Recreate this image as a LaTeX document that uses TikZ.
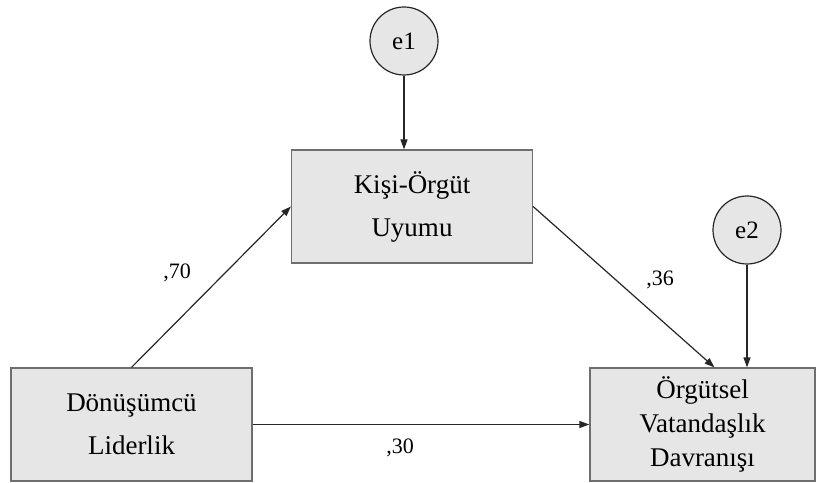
\documentclass[tikz,border=0pt]{standalone}
\usepackage{fontspec}
\setmainfont{Liberation Serif}
\usetikzlibrary{arrows.meta,positioning,calc}
\definecolor{boxfill}{HTML}{E6E6E6}
\definecolor{boxline}{HTML}{6E6E6E}

\begin{document}
\begin{tikzpicture}[
    x=1bp, y=-1bp,
    every node/.style={text=black},
    varbox/.style={
        rectangle, draw=boxline, line width=1.2bp,
        fill=boxfill,
        minimum width=241bp, minimum height=113bp,
        align=center, inner sep=2bp,
        font=\fontsize{27bp}{43bp}\selectfont,
    },
    errcirc/.style={
        circle, draw=black!85, line width=1.2bp,
        fill=boxfill, minimum size=68bp, inner sep=0pt,
        font=\fontsize{25bp}{30bp}\selectfont,
    },
    arrow/.style={-{Triangle[length=10bp,width=7bp]}, line width=1.2bp, draw=black!85},
    coef/.style={font=\fontsize{22bp}{26bp}\selectfont},
]

% Canvas
\useasboundingbox (0,0) rectangle (823,483);

% Error terms
\node[errcirc] (e1) at (404,41) {e1};
\node[errcirc] (e2) at (747,230) {e2};

% Variables
\node[varbox] (kou) at (412,206.5) {Kişi-Örgüt\\Uyumu};
\node[varbox] (dl) at (131.5,424.5) {Dönüşümcü\\Liderlik};
\node[varbox, minimum width=225bp,
      font=\fontsize{27bp}{34bp}\selectfont] (ovd) at (702.5,424.5)
    {Örgütsel\\Vatandaşlık\\Davranışı};

% Paths
\draw[arrow] (e1) -- (e1 |- kou.north);
\draw[arrow] (dl.north) -- (kou.west);
\draw[arrow] (kou.east) -- ($(ovd.north)+(12,0)$);
\draw[arrow] (e2) -- (e2 |- ovd.north);
\draw[arrow] (dl.east) -- (ovd.west);

% Coefficients
\node[coef] (c1) at (177,273) {,70};
\node[coef] (c2) at (660,280) {,36};
\node[coef] (c3) at (400,448) {,30};

\end{tikzpicture}
\end{document}
